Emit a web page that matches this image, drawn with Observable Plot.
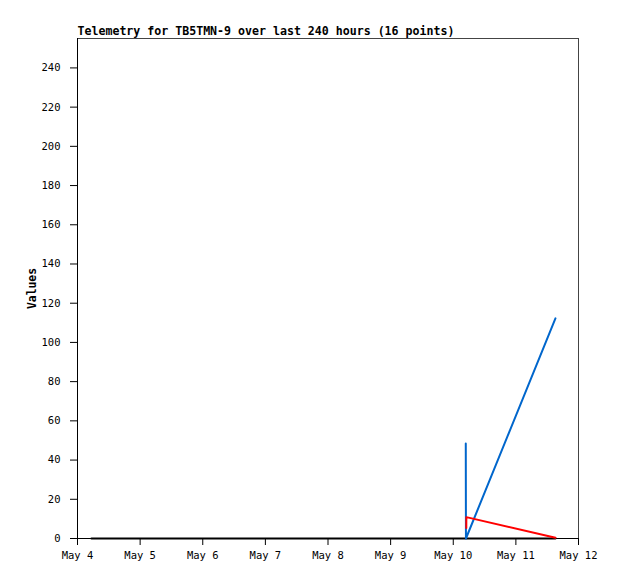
<!DOCTYPE html>
<html><head>
<meta charset="utf-8">
<script src="https://cdn.jsdelivr.net/npm/d3@7"></script>
<script src="https://cdn.jsdelivr.net/npm/@observablehq/plot@0.6"></script>
<style>
body{margin:0;background:#fff}
#chart svg{display:block}
</style>
</head><body><div id="chart"></div>
<script>
const title = "Telemetry for TB5TMN-9 over last 240 hours (16 points)";
const yLabel = "Values";
const xDomain = ["2024-05-04T00:00Z", "2024-05-12T00:00Z"];
const yDomain = [0, 255];
const yTicks = [0, 20, 40, 60, 80, 100, 120, 140, 160, 180, 200, 220, 240];

// series drawn in black (flat at zero)
const blackTimes = ["2024-05-04T05:20Z", "2024-05-05T02:00Z", "2024-05-06T09:00Z", "2024-05-07T14:00Z",
  "2024-05-08T20:00Z", "2024-05-09T12:00Z", "2024-05-10T05:00Z", "2024-05-11T15:10Z"];
const blackValues = [0, 0, 0, 0, 0, 0, 0, 0];

// blue series
const blueTimes = ["2024-05-10T04:48Z", "2024-05-10T04:52Z", "2024-05-11T15:10Z"];
const blueValues = [48.5, 0, 112.3];

// red series
const redTimes = ["2024-05-10T05:00Z", "2024-05-10T05:01Z", "2024-05-11T15:10Z"];
const redValues = [5.3, 10.9, 0.4];

const mk = (ts, vs) => ts.map((t, i) => ({t: new Date(t), v: vs[i]}));
const black = mk(blackTimes, blackValues);
const blue = mk(blueTimes, blueValues);
const red = mk(redTimes, redValues);

const font = "DejaVu Sans Mono, monospace";
const x0 = new Date(xDomain[0]), x1 = new Date(xDomain[1]);

const chart = Plot.plot({
  width: 618,
  height: 579,
  marginLeft: 77,
  marginRight: 40,
  marginTop: 38,
  marginBottom: 41,
  style: {fontFamily: font, fontSize: "10.5px", color: "#000", background: "#fff"},
  x: {type: "utc", domain: [x0, x1]},
  y: {domain: yDomain},
  marks: [
    Plot.axisY({ticks: yTicks, tickSize: 7, tickPadding: 10, label: null, stroke: "#000"}),
    Plot.axisX({ticks: d3.utcDay.every(1), tickFormat: d3.utcFormat("%b %-d"), tickSize: 7, tickPadding: 6, label: null}),
    Plot.ruleY([yDomain[1]], {stroke: "#444"}),
    Plot.ruleX([x1], {stroke: "#444"}),
    Plot.ruleX([x0], {stroke: "#000"}),
    Plot.ruleY([0], {stroke: "#000"}),
    Plot.line(black, {x: "t", y: "v", stroke: "#000", strokeWidth: 2}),
    Plot.line(blue, {x: "t", y: "v", stroke: "#0066cc", strokeWidth: 2}),
    Plot.line(red, {x: "t", y: "v", stroke: "#ff0000", strokeWidth: 2}),
    Plot.text([title], {frameAnchor: "top-left", lineAnchor: "bottom", textAnchor: "start", dy: -4, fontWeight: "bold", fontSize: 11.6, fill: "#000"}),
    Plot.text([yLabel], {frameAnchor: "left", textAnchor: "middle", rotate: -90, dx: -45, fontWeight: "bold", fontSize: 11.4, fill: "#000"})
  ]
});
document.getElementById("chart").append(chart);
</script>
</body></html>
